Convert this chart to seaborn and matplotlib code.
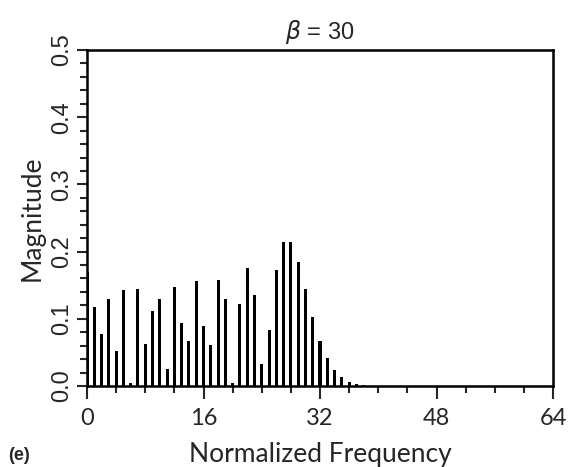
import numpy as np
import pandas as pd
import matplotlib
matplotlib.use("Agg")
import matplotlib.pyplot as plt
from matplotlib.ticker import MultipleLocator
import seaborn as sns

# Spectral line magnitudes (normalized frequency 0..38)
freq = list(range(0, 39))
magnitude = [0.170, 0.118, 0.078, 0.129, 0.052, 0.143, 0.005, 0.145, 0.063, 0.111,
             0.130, 0.025, 0.148, 0.094, 0.067, 0.156, 0.089, 0.061, 0.158, 0.129,
             0.005, 0.122, 0.176, 0.136, 0.032, 0.084, 0.173, 0.215, 0.214, 0.185,
             0.144, 0.102, 0.067, 0.042, 0.024, 0.013, 0.006, 0.0028, 0.0011]
x_ticks = [0, 16, 32, 48, 64]
y_ticks = [0.0, 0.1, 0.2, 0.3, 0.4, 0.5]
y_tick_labels = ["0.0", "0.1", "0.2", "0.3", "0.4", "0.5"]
title = r"$\beta$ = 30"
x_label = "Normalized Frequency"
y_label = "Magnitude"
panel_label = "(e)"

df = pd.DataFrame({"freq": freq, "mag": magnitude})

sns.set_style("ticks")
plt.rcParams["font.family"] = ["Liberation Sans", "DejaVu Sans"]

fig = plt.figure(figsize=(5.68, 4.67), dpi=100)
ax = fig.add_axes([87 / 568, 81 / 467, 466 / 568, 336 / 467])

sns.barplot(data=df, x="freq", y="mag", native_scale=True, width=0.42,
            color="black", saturation=1, linewidth=0, errorbar=None, ax=ax)

ax.set_xlim(0, 64)
ax.set_ylim(0, 0.5)
ax.set_xticks(x_ticks)
ax.set_xticklabels([str(t) for t in x_ticks], fontfamily="Lato", fontsize=17)
ax.xaxis.set_minor_locator(MultipleLocator(4))
ax.set_yticks(y_ticks)
ax.set_yticklabels(y_tick_labels, fontsize=17, rotation=90, va="center")
ax.yaxis.set_minor_locator(MultipleLocator(0.02))

for s in ax.spines.values():
    s.set_visible(True)
    s.set_linewidth(1.8)
    s.set_color("black")

ax.tick_params(axis="x", which="major", direction="out", length=9, width=1.5, pad=7)
ax.tick_params(axis="x", which="minor", direction="out", length=5, width=1.5)
ax.tick_params(axis="y", which="major", direction="out", length=7, width=1.5, pad=3)
ax.tick_params(axis="y", which="minor", direction="out", length=5, width=1.5)

ax.set_xlabel(x_label, fontfamily="Lato", fontsize=19, labelpad=9)
ax.set_ylabel(y_label, fontfamily="Lato", fontsize=19, labelpad=5)
ax.set_title(title, fontsize=17, pad=8)

fig.text(19 / 568, 1 - 455 / 467, panel_label, fontsize=13, fontweight="bold",
         ha="center", va="center")

fig.savefig("out.png", dpi=100)
